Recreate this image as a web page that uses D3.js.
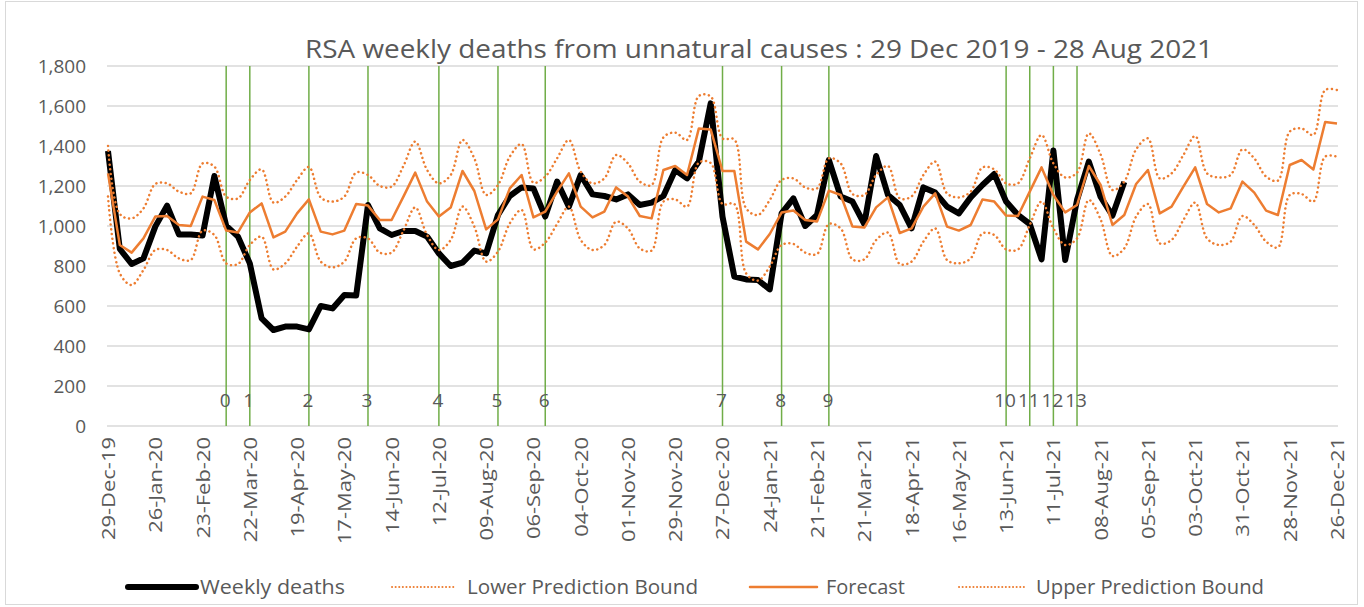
<!DOCTYPE html>
<html>
<head>
<meta charset="utf-8">
<script src="https://cdn.jsdelivr.net/npm/d3@7"></script>
<style>
  body { margin: 0; background: #fff; }
  text { font-family: "Open Sans", "Liberation Sans", sans-serif; fill: #595959; }
</style>
</head>
<body>
<div id="chart"></div>
<script>
// weekly series, week 0 = 29 Dec 2019
var startDate = new Date(2019, 11, 29);

var weeklyDeaths = [1375, 885, 810, 838, 997, 1102, 958, 958, 952, 1250, 1002, 947, 813, 538, 480, 497, 497, 483,
  600, 588, 655, 652, 1105, 988, 955, 975, 975, 947, 863, 800, 817, 877, 863, 1055, 1150, 1193, 1188, 1047,
  1222, 1097, 1255, 1158, 1150, 1133, 1158, 1105, 1117, 1150, 1280, 1238, 1322, 1613, 1047, 747, 733, 730,
  683, 1063, 1138, 1000, 1055, 1330, 1147, 1122, 1010, 1350, 1155, 1105, 988, 1193, 1167, 1097, 1063, 1143,
  1205, 1260, 1122, 1055, 1010, 833, 1377, 830, 1130, 1322, 1145, 1052, 1220];

var forecast = [1263, 905, 867, 938, 1047, 1050, 1005, 1000, 1147, 1130, 977, 968, 1068, 1113, 943, 972, 1063, 1133,
  972, 958, 977, 1110, 1102, 1030, 1030, 1147, 1267, 1122, 1047, 1092, 1275, 1175, 983, 1033, 1188, 1255, 1043,
  1072, 1172, 1263, 1097, 1043, 1072, 1193, 1147, 1050, 1038, 1280, 1300, 1255, 1488, 1483, 1275, 1275, 922, 883,
  960, 1067, 1077, 1030, 1022, 1177, 1155, 997, 992, 1093, 1143, 965, 988, 1097, 1163, 997, 977, 1005, 1133, 1122,
  1052, 1050, 1172, 1293, 1155, 1068, 1105, 1300, 1205, 1005, 1055, 1210, 1280, 1063, 1097, 1197, 1293, 1110, 1068,
  1088, 1222, 1167, 1077, 1055, 1305, 1330, 1283, 1520, 1513];

var upperBound = [1400, 1060, 1038, 1088, 1210, 1213, 1172, 1163, 1313, 1297, 1147, 1138, 1230, 1283, 1117, 1147, 1230, 1295,
  1143, 1122, 1147, 1267, 1255, 1200, 1197, 1300, 1422, 1280, 1213, 1255, 1430, 1338, 1155, 1205, 1347, 1410, 1217,
  1247, 1338, 1430, 1272, 1213, 1238, 1355, 1313, 1222, 1205, 1443, 1467, 1430, 1650, 1648, 1438, 1433, 1088, 1055,
  1130, 1230, 1238, 1193, 1188, 1338, 1313, 1160, 1155, 1255, 1300, 1138, 1148, 1255, 1322, 1163, 1143, 1172, 1293,
  1283, 1213, 1213, 1338, 1455, 1313, 1243, 1267, 1463, 1357, 1180, 1222, 1383, 1438, 1238, 1263, 1355, 1450, 1263,
  1243, 1255, 1383, 1338, 1247, 1227, 1472, 1488, 1455, 1680, 1680];

var lowerBound = [1147, 763, 705, 780, 880, 880, 838, 830, 977, 955, 813, 810, 905, 947, 783, 813, 897, 963,
  822, 793, 822, 938, 938, 867, 867, 977, 1093, 955, 880, 930, 1097, 997, 822, 872, 1013, 1080, 883,
  917, 1010, 1097, 930, 880, 905, 1022, 988, 888, 877, 1122, 1133, 1097, 1317, 1315, 1110, 1110, 763, 727,
  797, 905, 910, 867, 860, 1010, 988, 833, 833, 930, 967, 810, 822, 922, 988, 830, 813, 838, 963,
  955, 883, 883, 1005, 1122, 988, 905, 938, 1130, 1032, 850, 888, 1047, 1110, 913, 930, 1030, 1117, 938,
  905, 922, 1050, 1005, 922, 893, 1155, 1160, 1122, 1347, 1347];

// numbered markers (week index)
var markerWeeks = [10, 12, 17, 22, 28, 33, 37, 52, 57, 61, 76, 78, 80, 82];
var markerLabels = ["0", "1", "2", "3", "4", "5", "6", "7", "8", "9", "10", "11", "12", "13"];

var yTicks = [0, 200, 400, 600, 800, 1000, 1200, 1400, 1600, 1800];

var svgWidth = 1364;
var svgHeight = 607;

var svg = d3.select("#chart")
  .append("svg")
  .attr("width", svgWidth)
  .attr("height", svgHeight);

var weekDate = function(i) { return d3.timeDay.offset(startDate, 7 * i); };

var xScale = d3.scaleTime()
  .domain([weekDate(0), weekDate(104)])
  .range([108, 1337]);
var yScale = d3.scaleLinear().domain([0, 1800]).range([426, 66]);

// chart border
svg.append("rect")
  .attr("x", 5.5).attr("y", 1.5)
  .attr("width", 1352).attr("height", 603)
  .attr("fill", "none")
  .attr("stroke", "#d9d9d9");

// gridlines
svg.append("g").selectAll("line")
  .data(yTicks)
  .enter()
  .append("line")
  .attr("x1", 107).attr("x2", 1338)
  .attr("y1", d => yScale(d)).attr("y2", d => yScale(d))
  .attr("stroke", "#d9d9d9")
  .attr("stroke-width", 1.5);

// y axis labels
var leftAxis = d3.axisLeft(yScale).tickValues(yTicks).tickFormat(d3.format(",")).tickSize(0).tickPadding(0);
var yAxis = svg.append("g")
  .attr("transform", "translate(86,0)")
  .call(leftAxis);
yAxis.select(".domain").remove();
yAxis.selectAll("text")
  .style("font-size", "19px")
  .attr("fill", "#595959");

// x axis labels (stretched along the text like the original)
var tickDates = d3.range(0, 105, 4).map(weekDate);
var bottomAxis = d3.axisBottom(xScale).tickValues(tickDates).tickFormat(d3.timeFormat("%d-%b-%y")).tickSize(0);
var xAxis = svg.append("g")
  .attr("transform", "translate(0,426)")
  .call(bottomAxis);
xAxis.select(".domain").remove();
xAxis.selectAll("text")
  .style("font-size", "18px")
  .attr("fill", "#595959")
  .attr("text-anchor", "end")
  .attr("transform", "rotate(-90) scale(1.22,1)")
  .attr("x", -9)
  .attr("y", 0)
  .attr("dy", "0.36em");

// marker lines
var markers = svg.append("g");
markers.selectAll("line")
  .data(markerWeeks)
  .enter()
  .append("line")
  .attr("x1", d => xScale(weekDate(d))).attr("x2", d => xScale(weekDate(d)))
  .attr("y1", yScale(1800)).attr("y2", yScale(0))
  .attr("stroke", "#70ad47")
  .attr("stroke-width", 1.5);
markers.selectAll("text")
  .data(markerWeeks)
  .enter()
  .append("text")
  .attr("x", d => xScale(weekDate(d)) - 1)
  .attr("y", 407)
  .attr("text-anchor", "middle")
  .style("font-size", "19px")
  .text((d, i) => markerLabels[i]);

var lineOf = function(values, curve) {
  return d3.line()
    .x((d, i) => xScale(weekDate(i)))
    .y(d => yScale(d))
    .curve(curve)(values);
};

// weekly deaths
svg.append("path")
  .attr("d", lineOf(weeklyDeaths, d3.curveLinear))
  .attr("fill", "none")
  .attr("stroke", "#000")
  .attr("stroke-width", 6)
  .attr("stroke-linejoin", "round");

var dotted = function(values) {
  svg.append("path")
    .attr("d", lineOf(values, d3.curveCatmullRom))
    .attr("fill", "none")
    .attr("stroke", "#ed7d31")
    .attr("stroke-width", 2.5)
    .attr("stroke-linecap", "round")
    .attr("stroke-dasharray", "0.1 4.6");
};

dotted(lowerBound);

svg.append("path")
  .attr("d", lineOf(forecast, d3.curveLinear))
  .attr("fill", "none")
  .attr("stroke", "#ed7d31")
  .attr("stroke-width", 2.5)
  .attr("stroke-linejoin", "round");

dotted(upperBound);

// title
svg.append("text")
  .attr("x", 759)
  .attr("y", 58)
  .attr("text-anchor", "middle")
  .attr("textLength", 908)
  .attr("lengthAdjust", "spacingAndGlyphs")
  .style("font-size", "26px")
  .text("RSA weekly deaths from unnatural causes : 29 Dec 2019 - 28 Aug 2021");

// legend
var legendItems = [
  { name: "Weekly deaths", x1: 128, x2: 196, tx: 200, tw: 145, color: "#000", width: 6, dash: null },
  { name: "Lower Prediction Bound", x1: 392, x2: 456, tx: 467, tw: 231, color: "#ed7d31", width: 2, dash: "0.1 3.5" },
  { name: "Forecast", x1: 750, x2: 817, tx: 826, tw: 79, color: "#ed7d31", width: 2.5, dash: null },
  { name: "Upper Prediction Bound", x1: 959, x2: 1027, tx: 1036, tw: 228, color: "#ed7d31", width: 2, dash: "0.1 3.5" }
];
var legend = svg.append("g");
legendItems.forEach(function(item) {
  legend.append("line")
    .attr("x1", item.x1).attr("x2", item.x2)
    .attr("y1", 587).attr("y2", 587)
    .attr("stroke", item.color)
    .attr("stroke-width", item.width)
    .attr("stroke-linecap", "round")
    .attr("stroke-dasharray", item.dash);
  legend.append("text")
    .attr("x", item.tx)
    .attr("y", 594)
    .attr("textLength", item.tw)
    .attr("lengthAdjust", "spacingAndGlyphs")
    .style("font-size", "20px")
    .text(item.name);
});
</script>
</body>
</html>
